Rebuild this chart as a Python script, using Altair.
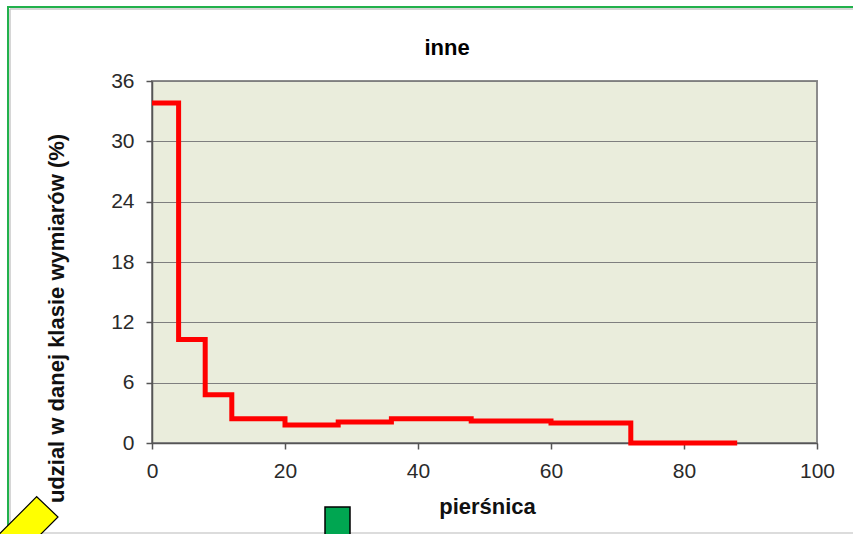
import altair as alt
import pandas as pd

# Step chart data (class lower bounds -> share in %)
pierśnica = [0, 4, 8, 12, 20, 28, 36, 48, 60, 72, 88]
udzial = [33.8, 10.3, 4.8, 2.4, 1.8, 2.1, 2.4, 2.2, 2.0, 0.0, 0.0]
x_ticks = [0, 20, 40, 60, 80, 100]
y_ticks = [0, 6, 12, 18, 24, 30, 36]
chart_title = "inne"

df = pd.DataFrame({"x": pierśnica, "y": udzial})

FONT = "Liberation Sans"

line = alt.Chart(df).mark_line(
    color="#FF0000", strokeWidth=5, interpolate="step-after",
    strokeJoin="miter", strokeCap="butt"
).encode(
    x=alt.X("x:Q", scale=alt.Scale(domain=[0, 100], nice=False),
            axis=alt.Axis(values=x_ticks, grid=False, title="pierśnica",
                          titleX=335, titleY=70, titleBaseline="alphabetic",
                          titleAnchor="middle", labelPadding=11,
                          labelFlush=False)),
    y=alt.Y("y:Q", scale=alt.Scale(domain=[0, 36], nice=False),
            axis=alt.Axis(values=y_ticks, grid=True,
                          title="udzial w danej klasie wymiarów (%)",
                          titleAngle=-90, titleX=-96, titleY=237,
                          titleAlign="center", titleBaseline="middle",
                          labelPadding=12, labelFlush=False)),
)

one = alt.Data(values=[{"t": chart_title}])

title_text = alt.Chart(one).mark_text(
    font=FONT, fontSize=22, fontWeight="bold", color="#000000",
    align="center", baseline="alphabetic"
).encode(text="t:N", x=alt.value(295), y=alt.value(-26))

left_border = alt.Chart(one).mark_rule(color="#22B14C", strokeWidth=2).encode(
    x=alt.value(-144), y=alt.value(-74), y2=alt.value(460))
top_border = alt.Chart(one).mark_rule(color="#22B14C", strokeWidth=2).encode(
    x=alt.value(-145), x2=alt.value(710), y=alt.value(-74))
left_shadow = alt.Chart(one).mark_rule(color="#C8C8C8", strokeWidth=1.5).encode(
    x=alt.value(-142), y=alt.value(-72), y2=alt.value(460))
top_shadow = alt.Chart(one).mark_rule(color="#C8C8C8", strokeWidth=1.5).encode(
    x=alt.value(-142), x2=alt.value(710), y=alt.value(-72))
bottom_line = alt.Chart(one).mark_rule(color="#D0D0D0", strokeWidth=1.5).encode(
    x=alt.value(-152), x2=alt.value(710), y=alt.value(452))

green_rect = alt.Chart(one).mark_rect(
    fill="#00A651", stroke="#000000", strokeWidth=1.5
).encode(x=alt.value(173), x2=alt.value(198), y=alt.value(426), y2=alt.value(470))

yellow = alt.Chart(one).mark_point(
    shape="M0,0L21.3,20.3L-18.7,60.3L-40,40Z", size=4, filled=True,
    fill="#FFFF00", stroke="#000000", strokeWidth=1.2, opacity=1
).encode(x=alt.value(-115.3), y=alt.value(415.7))

chart = alt.layer(
    line, title_text, left_shadow, top_shadow, left_border, top_border,
    bottom_line, green_rect, yellow
).properties(
    width=665, height=362,
    autosize=alt.AutoSizeParams(type="none"),
    padding={"left": 152, "top": 81, "right": 36, "bottom": 91},
    background="#FFFFFF",
).configure_view(
    fill="#EAEDDC", stroke="#8C8C8C", strokeWidth=2
).configure_axis(
    labelFont=FONT, labelFontSize=21, labelColor="#2A2A2A",
    titleFont=FONT, titleFontSize=22, titleFontWeight="bold", titleColor="#111111",
    domainColor="#555555", domainWidth=1.5, tickColor="#555555", tickWidth=1.5,
    tickSize=6, gridColor="#7F7F7F", gridWidth=1.2, gridOpacity=1
)

chart.save("out.html", embed_options={"renderer": "svg", "actions": False})
